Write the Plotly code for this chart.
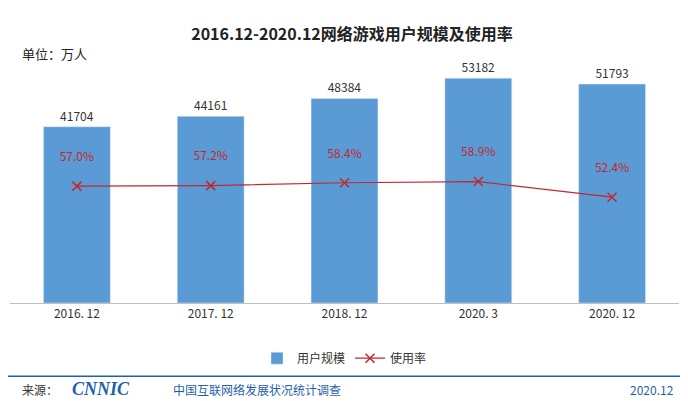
import plotly.graph_objects as go

categories = ["2016. 12", "2017. 12", "2018. 12", "2020. 3", "2020. 12"]
users = [41704, 44161, 48384, 53182, 51793]
rates = [57.0, 57.2, 58.4, 58.9, 52.4]
rate_labels = ["57.0%", "57.2%", "58.4%", "58.9%", "52.4%"]

fig = go.Figure()
fig.add_trace(go.Bar(x=categories, y=users, name="用户规模", width=0.5,
                     marker=dict(color="#5B9BD5"),
                     text=[str(v) for v in users], textposition="outside",
                     textfont=dict(size=12, color="#333"), cliponaxis=False))
fig.add_trace(go.Scatter(x=categories, y=rates, name="使用率", yaxis="y2",
                         mode="lines+markers+text",
                         line=dict(color="#C0282D", width=1.2),
                         marker=dict(symbol="x-thin", size=9, line=dict(color="#C0282D", width=1.5)),
                         text=rate_labels, textposition="top center",
                         textfont=dict(size=12, color="#C0282D")))
fig.update_traces(selector=dict(type="scatter"), texttemplate="%{text}<br> ")

fig.update_layout(
    width=688, height=401, paper_bgcolor="white", plot_bgcolor="white",
    margin=dict(l=2, r=17, t=55, b=106),
    font=dict(family="Noto Sans CJK SC", size=12, color="#333"),
    title=dict(text="<b>2016.12-2020.12网络游戏用户规模及使用率</b>", x=0.5, y=0.935,
               xanchor="center", yanchor="middle", font=dict(size=16, color="#222")),
    xaxis=dict(showline=True, linecolor="#BFBFBF", ticks="", tickfont=dict(size=12, color="#333")),
    yaxis=dict(range=[0, 56770], visible=False),
    yaxis2=dict(range=[8.3, 108.3], overlaying="y", visible=False),
    showlegend=True, bargap=0.5,
    legend=dict(orientation="h", x=0.5, xanchor="center", y=-0.23, yanchor="middle",
                font=dict(size=12)),
    annotations=[
        dict(text="单位：万人", x=0.015, y=1.04, xref="paper", yref="paper", xanchor="left",
             yanchor="middle", showarrow=False, font=dict(size=13, color="#222")),
        dict(text="来源：", xref="paper", yref="paper", x=0.015, y=-0.36, xanchor="left",
             yanchor="middle", showarrow=False, font=dict(size=12, color="#333")),
        dict(text="<b><i>CNNIC</i></b>", xref="paper", yref="paper", x=0.09, y=-0.36, xanchor="left",
             yanchor="middle", showarrow=False, font=dict(size=18, color="#1F5FAF", family="Arial Black")),
        dict(text="中国互联网络发展状况统计调查", xref="paper", yref="paper", x=0.24, y=-0.36, xanchor="left",
             yanchor="middle", showarrow=False, font=dict(size=12, color="#1F5FAF")),
        dict(text="2020.12", xref="paper", yref="paper", x=0.995, y=-0.36, xanchor="right",
             yanchor="middle", showarrow=False, font=dict(size=12, color="#1F5FAF")),
    ],
    shapes=[dict(type="line", xref="paper", yref="paper", x0=-0.01, x1=1.03, y0=-0.305, y1=-0.305,
                 line=dict(color="#1F5FAF", width=1.5))],
)
fig.write_html("out.html")
